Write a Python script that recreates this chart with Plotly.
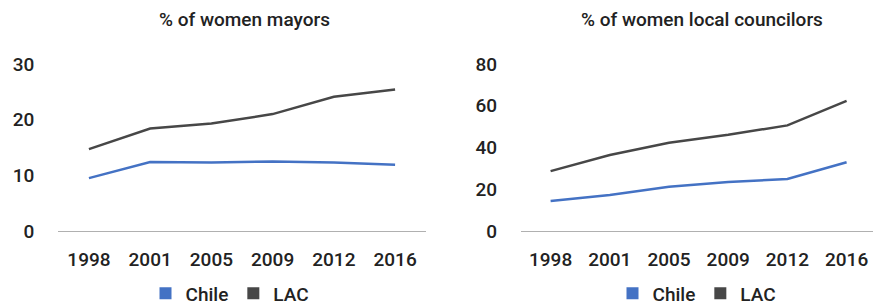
import plotly.graph_objects as go

years = ["1998", "2001", "2005", "2009", "2012", "2016"]
mayors_chile = [9.5, 12.4, 12.3, 12.5, 12.3, 11.9]
mayors_lac = [14.7, 18.4, 19.3, 21.0, 24.1, 25.4]
councilors_chile = [14.4, 17.2, 21.2, 23.5, 24.9, 32.9]
councilors_lac = [28.7, 36.4, 42.3, 46.1, 50.6, 62.3]

CHILE = "#4472C4"
LAC = "#474747"
TXT = "#222222"
FONT = "Roboto, sans-serif"

W, H = 873, 305

def px_x(p):
    return p / W

def px_y(p):
    return (H - p) / H

fig = go.Figure()

# left chart lines
fig.add_trace(go.Scatter(x=years, y=mayors_chile, mode="lines", line=dict(color=CHILE, width=2.5),
                         xaxis="x", yaxis="y", showlegend=False, name="Chile"))
fig.add_trace(go.Scatter(x=years, y=mayors_lac, mode="lines", line=dict(color=LAC, width=2.5),
                         xaxis="x", yaxis="y", showlegend=False, name="LAC"))
# right chart lines
fig.add_trace(go.Scatter(x=years, y=councilors_chile, mode="lines", line=dict(color=CHILE, width=2.5),
                         xaxis="x2", yaxis="y2", showlegend=False, name="Chile"))
fig.add_trace(go.Scatter(x=years, y=councilors_lac, mode="lines", line=dict(color=LAC, width=2.5),
                         xaxis="x2", yaxis="y2", showlegend=False, name="LAC"))

# legend entries (square swatches)
for name, col in (("Chile", CHILE), ("LAC", LAC)):
    fig.add_trace(go.Scatter(x=[None], y=[None], mode="markers", name=name,
                             marker=dict(symbol="square", size=12, color=col),
                             xaxis="x", yaxis="y", legend="legend"))
    fig.add_trace(go.Scatter(x=[None], y=[None], mode="markers", name=name,
                             marker=dict(symbol="square", size=12, color=col),
                             xaxis="x2", yaxis="y2", legend="legend2"))

TICKFONT = dict(size=19, color=TXT, family=FONT, weight=500)

xcommon = dict(type="category", showgrid=False, showline=True, linecolor="#b0b0b0", linewidth=1,
               ticks="", tickfont=TICKFONT, ticklabelstandoff=11,
               zeroline=False, fixedrange=True, automargin=False)
ycommon = dict(showgrid=False, showline=False, zeroline=False, ticks="", automargin=False,
               fixedrange=True, tickfont=TICKFONT, ticklabelstandoff=23)

ydom = [px_y(231), px_y(64)]

fig.update_layout(
    width=W, height=H,
    margin=dict(l=0, r=0, t=0, b=0, autoexpand=False),
    paper_bgcolor="white", plot_bgcolor="white",
    font=dict(family=FONT, color=TXT),
    hovermode=False,
    xaxis=dict(domain=[px_x(58.3), px_x(425.7)], range=[-0.5, 5.5], anchor="y", **xcommon),
    yaxis=dict(domain=ydom, range=[0, 30], tickvals=[0, 10, 20, 30], anchor="x", **ycommon),
    xaxis2=dict(domain=[px_x(521), 1.0], range=[-0.5, 5.446], anchor="y2", **xcommon),
    yaxis2=dict(domain=ydom, range=[0, 80], tickvals=[0, 20, 40, 60, 80], anchor="x2", **ycommon),
    legend=dict(orientation="h", x=px_x(230), xanchor="center", y=px_y(293.5), yanchor="middle",
                font=dict(size=19, color=TXT, family=FONT, weight=500), itemwidth=30, tracegroupgap=0,
                bgcolor="rgba(0,0,0,0)"),
    legend2=dict(orientation="h", x=px_x(697), xanchor="center", y=px_y(293.5), yanchor="middle",
                 font=dict(size=19, color=TXT, family=FONT, weight=500), itemwidth=30, tracegroupgap=0,
                 bgcolor="rgba(0,0,0,0)"),
    annotations=[
        dict(text="% of women mayors", x=px_x(244), y=px_y(20), xref="paper", yref="paper",
             xanchor="center", yanchor="middle", showarrow=False,
             font=dict(size=19, color=TXT, family=FONT, weight=500)),
        dict(text="% of women local councilors", x=px_x(701.5), y=px_y(20), xref="paper", yref="paper",
             xanchor="center", yanchor="middle", showarrow=False,
             font=dict(size=19, color=TXT, family=FONT, weight=500)),
    ],
)

fig.write_html("out.html", config={"displayModeBar": False, "staticPlot": True},
               post_script="document.body.style.margin='0';document.body.style.overflow='hidden';")
